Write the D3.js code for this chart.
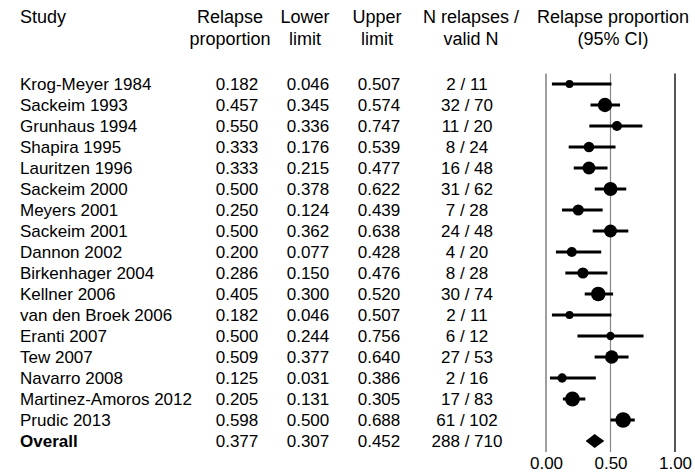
<!DOCTYPE html>
<html lang="en">
<head>
<meta charset="utf-8">
<title>Forest plot</title>
<script src="https://cdn.jsdelivr.net/npm/d3@7"></script>
<style>
  body { margin: 0; background: #fff; }
  svg { font-family: "Liberation Sans", Arial, sans-serif; }
  .txt { font-size: 17px; fill: #000; }
  .hdr { font-size: 18px; fill: #000; }
  .ci { stroke: #000; stroke-width: 3; }
  .axis text { font-size: 17px; fill: #000; font-family: "Liberation Sans", Arial, sans-serif; }
</style>
</head>
<body>
<script>
// data
var studies = ["Krog-Meyer 1984", "Sackeim 1993", "Grunhaus 1994", "Shapira 1995", "Lauritzen 1996",
  "Sackeim 2000", "Meyers 2001", "Sackeim 2001", "Dannon 2002", "Birkenhager 2004", "Kellner 2006",
  "van den Broek 2006", "Eranti 2007", "Tew 2007", "Navarro 2008", "Martinez-Amoros 2012", "Prudic 2013"];
var proportion = [0.182, 0.457, 0.550, 0.333, 0.333, 0.500, 0.250, 0.500, 0.200, 0.286, 0.405, 0.182, 0.500, 0.509, 0.125, 0.205, 0.598];
var lower = [0.046, 0.345, 0.336, 0.176, 0.215, 0.378, 0.124, 0.362, 0.077, 0.150, 0.300, 0.046, 0.244, 0.377, 0.031, 0.131, 0.500];
var upper = [0.507, 0.574, 0.747, 0.539, 0.477, 0.622, 0.439, 0.638, 0.428, 0.476, 0.520, 0.507, 0.756, 0.640, 0.386, 0.305, 0.688];
var relapses = [2, 32, 11, 8, 16, 31, 7, 24, 4, 8, 30, 2, 6, 27, 2, 17, 61];
var validN = [11, 70, 20, 24, 48, 62, 28, 48, 20, 28, 74, 11, 12, 53, 16, 83, 102];
var overall = { label: "Overall", p: 0.377, lo: 0.307, hi: 0.452, r: 288, n: 710 };
var ticks = [0, 0.5, 1];

var w = 695, h = 476;

var svg = d3.select("body").append("svg")
  .attr("width", w)
  .attr("height", h);

var rows = studies.map(function(s, i) {
  return { study: s, p: proportion[i], lo: lower[i], hi: upper[i], r: relapses[i], n: validN[i] };
});

//Row positions (baselines)
var yScale = d3.scaleBand()
  .domain(d3.range(rows.length + 1))
  .range([73.5, 451.5]);
var baseline = function(i) { return yScale(i) + yScale.bandwidth() / 2 + 6; };
var mid = function(i) { return yScale(i) + yScale.bandwidth() / 2; };

var xScale = d3.scaleLinear().domain([0, 1]).range([546, 675]);
var rScale = d3.scaleLog().domain([11, 102]).range([4, 7.8]);
var fmt = d3.format(".3f");

//Headers
var headers = [
  { x: 20, anchor: "start", lines: ["Study"] },
  { x: 230, anchor: "middle", lines: ["Relapse", "proportion"] },
  { x: 305, anchor: "middle", lines: ["Lower", "limit"] },
  { x: 377, anchor: "middle", lines: ["Upper", "limit"] },
  { x: 471, anchor: "middle", lines: ["N relapses /", "valid N"] },
  { x: 613, anchor: "middle", lines: ["Relapse proportion", "(95% CI)"] }
];
headers.forEach(function(hd) {
  hd.lines.forEach(function(l, j) {
    svg.append("text")
      .attr("class", "hdr")
      .attr("x", hd.x)
      .attr("y", 23 + j * 22)
      .attr("text-anchor", hd.anchor)
      .text(l);
  });
});

//Reference lines
svg.selectAll(".ref")
  .data(ticks)
  .enter().append("line")
  .attr("x1", function(d) { return xScale(d); })
  .attr("x2", function(d) { return xScale(d); })
  .attr("y1", 73.5)
  .attr("y2", 452)
  .attr("stroke", function(d) { return d === 1 ? "#555" : "#888"; })
  .attr("stroke-width", function(d) { return d === 0.5 ? 1.2 : (d === 1 ? 2 : 1.6); });

//Table columns
var allRows = rows.concat([{ study: overall.label, p: overall.p, lo: overall.lo, hi: overall.hi, r: overall.r, n: overall.n }]);
var g = svg.selectAll(".row")
  .data(allRows)
  .enter().append("g");

g.append("text").attr("class", "txt")
  .attr("x", 20).attr("y", function(d, i) { return baseline(i); })
  .style("font-weight", function(d, i) { return i === rows.length ? "bold" : "normal"; })
  .text(function(d) { return d.study; });
g.append("text").attr("class", "txt").attr("text-anchor", "middle")
  .attr("x", 237).attr("y", function(d, i) { return baseline(i); })
  .text(function(d) { return fmt(d.p); });
g.append("text").attr("class", "txt").attr("text-anchor", "middle")
  .attr("x", 308).attr("y", function(d, i) { return baseline(i); })
  .text(function(d) { return fmt(d.lo); });
g.append("text").attr("class", "txt").attr("text-anchor", "middle")
  .attr("x", 379).attr("y", function(d, i) { return baseline(i); })
  .text(function(d) { return fmt(d.hi); });
g.append("text").attr("class", "txt").attr("text-anchor", "middle")
  .attr("x", 467).attr("y", function(d, i) { return baseline(i); })
  .text(function(d) { return d.r + " / " + d.n; });

//CI lines and points for studies
svg.selectAll(".ci")
  .data(rows)
  .enter().append("line")
  .attr("class", "ci")
  .attr("x1", function(d) { return xScale(d.lo); })
  .attr("x2", function(d) { return xScale(d.hi); })
  .attr("y1", function(d, i) { return mid(i); })
  .attr("y2", function(d, i) { return mid(i); });

svg.selectAll(".pt")
  .data(rows)
  .enter().append("circle")
  .attr("cx", function(d) { return xScale(d.p); })
  .attr("cy", function(d, i) { return mid(i); })
  .attr("r", function(d) { return rScale(d.n); })
  .attr("fill", "#000");

//Overall diamond
var oy = mid(rows.length);
svg.append("path")
  .attr("d", "M" + xScale(overall.lo) + "," + oy +
    "L" + xScale(overall.p) + "," + (oy - 7) +
    "L" + xScale(overall.hi) + "," + oy +
    "L" + xScale(overall.p) + "," + (oy + 7) + "Z")
  .attr("fill", "#000");

//Axis labels
var xAxis = d3.axisBottom(xScale)
  .tickValues(ticks)
  .tickSize(0)
  .tickPadding(5)
  .tickFormat(d3.format(".2f"));

svg.append("g")
  .attr("class", "axis")
  .attr("transform", "translate(0,452)")
  .call(xAxis)
  .call(function(a) { a.select(".domain").remove(); });
</script>
</body>
</html>
